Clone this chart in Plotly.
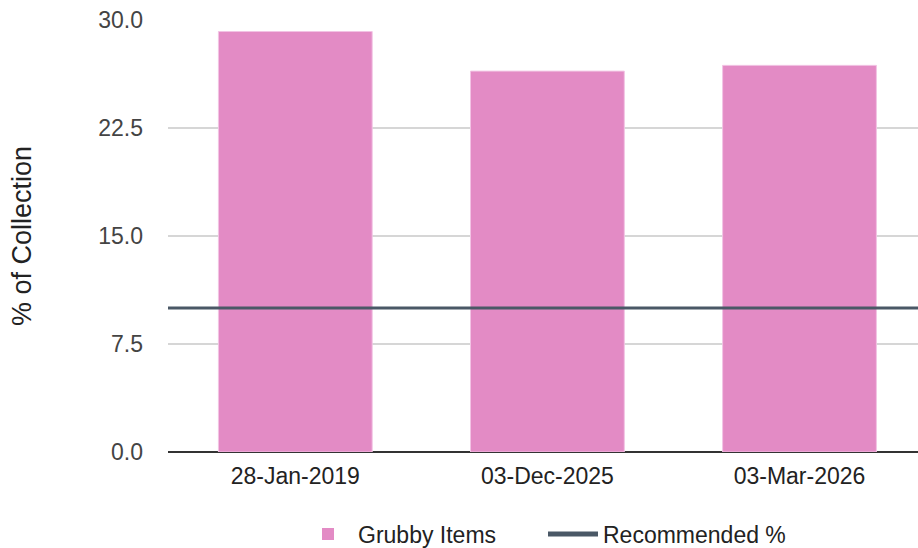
import plotly.graph_objects as go

categories = ["28-Jan-2019", "03-Dec-2025", "03-Mar-2026"]
grubby_items = [29.2, 26.45, 26.85]
recommended_pct = 10.0
y_ticks = [0.0, 7.5, 15.0, 22.5, 30.0]
y_tick_labels = ["0.0", "7.5", "15.0", "22.5", "30.0"]

FONT = "Liberation Sans, Arial, sans-serif"
LINE_COLOR = "#4a5866"
BAR_COLOR = "rgb(227,139,197)"

fig = go.Figure()
fig.add_trace(go.Bar(
    x=list(range(len(categories))),
    y=grubby_items,
    name="Grubby Items",
    width=0.61,
    showlegend=False,
    marker=dict(color=BAR_COLOR, line=dict(color="rgb(242,196,228)", width=1)),
))
# legend entries
fig.add_trace(go.Scatter(
    x=[None], y=[None], mode="markers", name="Grubby Items",
    marker=dict(symbol="square", color=BAR_COLOR, size=16),
))
fig.add_trace(go.Scatter(
    x=[None], y=[None], mode="lines", name="Recommended %",
    line=dict(color=LINE_COLOR, width=3),
))
# recommended level spans the full plot width
fig.add_shape(type="line", xref="paper", x0=0, x1=1, yref="y",
              y0=recommended_pct, y1=recommended_pct,
              line=dict(color=LINE_COLOR, width=3), layer="above")

fig.update_layout(
    width=918, height=548,
    margin=dict(l=168, r=0, t=20, b=96, autoexpand=False),
    paper_bgcolor="white", plot_bgcolor="white",
    font=dict(family=FONT, size=23, color="#444"),
    showlegend=True,
    legend=dict(orientation="h", x=0.5, xanchor="center", y=-0.19, yanchor="middle",
                font=dict(size=23, color="#222"), traceorder="normal",
                itemwidth=50, entrywidth=180, itemsizing="constant"),
    xaxis=dict(
        tickmode="array", tickvals=list(range(len(categories))), ticktext=categories,
        range=[-0.505, 2.47], showgrid=False, zeroline=False, showline=False,
        ticks="", ticklabelstandoff=8, tickfont=dict(size=23, color="#222"),
    ),
    yaxis=dict(
        range=[0, 30], tickmode="array", tickvals=y_ticks, ticktext=y_tick_labels,
        showgrid=True, gridcolor="#d6d6d6", gridwidth=1.5,
        zeroline=True, zerolinecolor="#333", zerolinewidth=2,
        ticks="", ticklabelstandoff=24, tickfont=dict(size=23, color="#444"),
        title=dict(text="% of Collection", font=dict(size=27, color="#222"), standoff=58),
    ),
)

fig.write_html("out.html", config={"displayModeBar": False},
               post_script="document.body.style.margin='0';")
